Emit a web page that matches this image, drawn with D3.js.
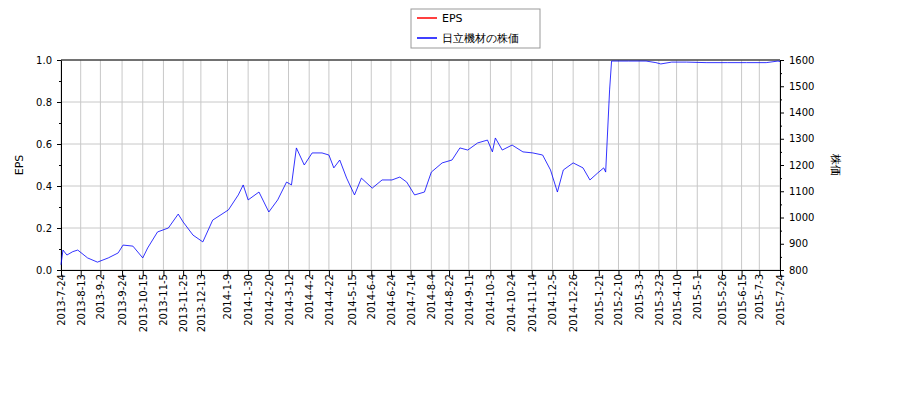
<!DOCTYPE html>
<html><head><meta charset="utf-8">
<script src="https://cdn.jsdelivr.net/npm/d3@7"></script>
<style>body{margin:0;background:#fff;font-family:"DejaVu Sans",sans-serif}</style>
</head><body>
<svg id="chart" width="900" height="400"></svg>
<script>
const tickLabels = ["2013-7-24","2013-8-13","2013-9-2","2013-9-24","2013-10-15","2013-11-5","2013-11-25","2013-12-13","2014-1-9","2014-1-30","2014-2-20","2014-3-12","2014-4-2","2014-4-22","2014-5-15","2014-6-4","2014-6-24","2014-7-14","2014-8-4","2014-8-22","2014-9-11","2014-10-3","2014-10-24","2014-11-14","2014-12-5","2014-12-26","2015-1-21","2015-2-10","2015-3-3","2015-3-23","2015-4-10","2015-5-1","2015-5-26","2015-6-15","2015-7-3","2015-7-24"];
const priceDates = ["2013-7-24","2013-7-26","2013-7-30","2013-8-5","2013-8-10","2013-8-20","2013-8-30","2013-9-10","2013-9-20","2013-9-25","2013-10-5","2013-10-15","2013-10-20","2013-10-30","2013-11-10","2013-11-20","2013-11-25","2013-12-5","2013-12-15","2013-12-25","2014-1-10","2014-1-20","2014-1-25","2014-1-30","2014-2-10","2014-2-20","2014-3-1","2014-3-10","2014-3-15","2014-3-20","2014-3-28","2014-4-5","2014-4-15","2014-4-22","2014-4-27","2014-5-3","2014-5-10","2014-5-18","2014-5-25","2014-6-5","2014-6-15","2014-6-25","2014-7-3","2014-7-10","2014-7-18","2014-7-28","2014-8-4","2014-8-15","2014-8-25","2014-9-2","2014-9-10","2014-9-20","2014-9-30","2014-10-5","2014-10-8","2014-10-15","2014-10-25","2014-11-5","2014-11-15","2014-11-25","2014-12-3","2014-12-10","2014-12-16","2014-12-26","2015-1-5","2015-1-12","2015-1-20","2015-1-26","2015-1-28","2015-2-1","2015-2-3","2015-2-20","2015-3-10","2015-3-20","2015-3-25","2015-4-5","2015-4-20","2015-5-10","2015-6-1","2015-6-20","2015-7-10","2015-7-22","2015-7-24"];
const priceValues = [820,876,857,870,876,846,830,846,865,895,891,846,884,945,960,1013,983,933,907,990,1029,1086,1124,1067,1097,1021,1067,1135,1124,1265,1200,1246,1246,1238,1189,1219,1150,1086,1150,1112,1143,1143,1154,1135,1086,1097,1173,1208,1219,1265,1257,1284,1295,1250,1303,1257,1276,1250,1246,1238,1181,1097,1181,1208,1189,1143,1170,1189,1173,1486,1596,1596,1596,1590,1585,1592,1592,1590,1590,1590,1590,1596,1594];
const epsValues = [];

const parse = d3.timeParse("%Y-%-m-%-d");
const svg = d3.select("#chart");
const m = {left: 61, right: 120, top: 60, bottom: 130};
const w = 900 - m.left - m.right, h = 400 - m.top - m.bottom;
const g = svg.append("g").attr("transform", `translate(${m.left},${m.top})`);

const ticks = tickLabels.map(parse);
const x = d3.scaleTime().domain([ticks[0], ticks[ticks.length-1]]).range([0, w]);
const yl = d3.scaleLinear().domain([0, 1]).range([h, 0]);
const yr = d3.scaleLinear().domain([800, 1600]).range([h, 0]);

g.append("g").selectAll("line").data(ticks).join("line")
  .attr("x1", d => x(d)).attr("x2", d => x(d)).attr("y1", 0).attr("y2", h)
  .attr("stroke", "#c8c8c8");
g.append("g").selectAll("line").data(d3.range(0, 1.01, 0.2)).join("line")
  .attr("x1", 0).attr("x2", w).attr("y1", d => yl(d)).attr("y2", d => yl(d))
  .attr("stroke", "#c8c8c8");

const xa = g.append("g").attr("transform", `translate(0,${h})`)
  .call(d3.axisBottom(x).tickValues(ticks).tickFormat((d, i) => tickLabels[i]).tickSizeOuter(0));
xa.selectAll("text").attr("transform", "rotate(-90)").attr("text-anchor", "end")
  .attr("x", -4).attr("y", 0).attr("dy", "0.35em");

const ya = g.append("g").call(d3.axisLeft(yl).tickValues(d3.range(0, 1.01, 0.1))
  .tickFormat(d => Math.round(d * 10) % 2 === 0 ? d.toFixed(1) : "").tickSizeOuter(0));
ya.selectAll(".tick line").attr("x2", (d) => Math.round(d * 10) % 2 === 0 ? -4 : -2);
const yra = g.append("g").attr("transform", `translate(${w},0)`)
  .call(d3.axisRight(yr).tickValues(d3.range(800, 1601, 50))
  .tickFormat(d => d % 100 === 0 ? d : "").tickSizeOuter(0));
yra.selectAll(".tick line").attr("x2", d => d % 100 === 0 ? 4 : 2);
g.append("line").attr("x1", 0).attr("x2", w).attr("y1", 0).attr("y2", 0).attr("stroke", "#000");
svg.selectAll(".tick text").attr("font-size", 10).attr("font-family", "DejaVu Sans").attr("fill", "#000");
svg.selectAll(".domain").attr("stroke", "#000");

const pts = priceDates.map((d, i) => [parse(d), priceValues[i]]);
g.append("path").datum(pts).attr("fill", "none").attr("stroke", "#0000ff").attr("stroke-width", 0.8)
  .attr("d", d3.line().x(d => x(d[0])).y(d => yr(d[1])));

g.append("text").attr("transform", `translate(-38,${h/2}) rotate(-90)`).attr("text-anchor", "middle")
  .attr("font-size", 11).text("EPS");
g.append("text").attr("transform", `translate(${w + 52},${h/2}) rotate(90)`).attr("text-anchor", "middle")
  .attr("font-size", 11).text("株価");

const lg = svg.append("g").attr("transform", "translate(411,9)");
lg.append("rect").attr("width", 129).attr("height", 39).attr("fill", "#fff").attr("stroke", "#999");
[["EPS", "#ff0000"], ["日立機材の株価", "#0000ff"]].forEach(([t, c], i) => {
  lg.append("line").attr("x1", 6).attr("x2", 26).attr("y1", 9 + i * 20).attr("y2", 9 + i * 20).attr("stroke", c).attr("stroke-width", 1.5);
  lg.append("text").attr("x", 31).attr("y", 13 + i * 20).attr("font-size", 11).text(t);
});
</script>
</body></html>
